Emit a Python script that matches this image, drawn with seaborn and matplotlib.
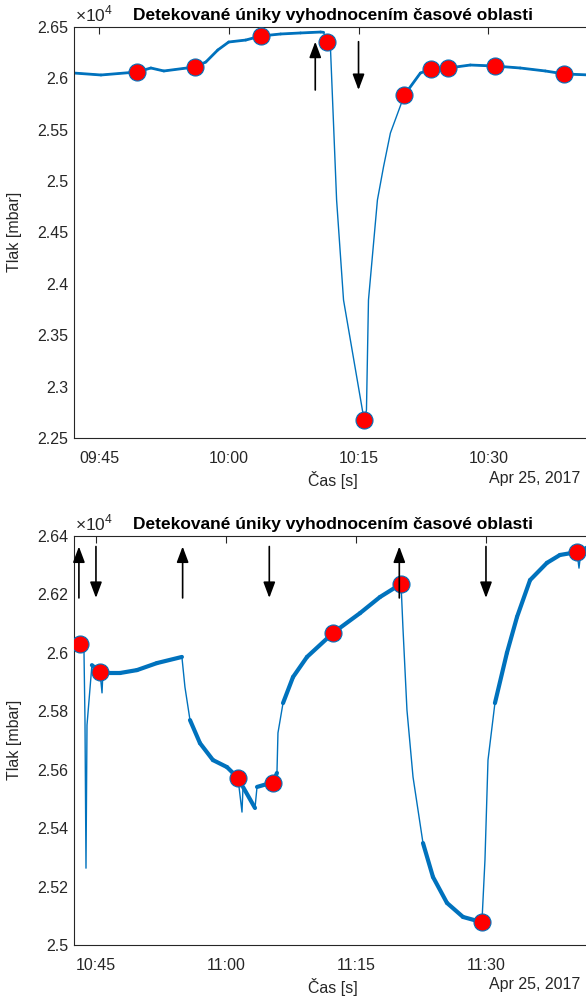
import numpy as np
import pandas as pd
import seaborn as sns
import matplotlib
matplotlib.use('Agg')
import matplotlib.pyplot as plt
import matplotlib.dates as mdates
from matplotlib.ticker import FuncFormatter, MultipleLocator

day = '2017-04-25 '
title = 'Detekované úniky vyhodnocením časové oblasti'

# horni graf - tlak [mbar]
top_time = ['09:42:07', '09:45:14', '09:49:23', '09:51:00', '09:52:30', '09:56:05',
            '09:57:21', '09:58:44', '10:00:00', '10:01:58', '10:03:41', '10:06:00',
            '10:08:18', '10:10:37', '10:10:58', '10:11:18', '10:11:46', '10:12:28',
            '10:13:16', '10:15:28', '10:15:41', '10:15:55', '10:16:09', '10:17:11',
            '10:17:53', '10:18:41', '10:20:18', '10:22:09', '10:23:25', '10:25:23',
            '10:27:55', '10:30:48', '10:33:41', '10:36:35', '10:38:46', '10:41:46']
top_p = [26052, 26033, 26062, 26101, 26072, 26111,
         26159, 26276, 26354, 26373, 26412, 26432,
         26442, 26451, 26448, 26354, 26276, 24816,
         23843, 22763, 22675, 22772, 23843, 24816,
         25137, 25468, 25838, 26052, 26091, 26101,
         26130, 26120, 26101, 26072, 26043, 26033]
top_mark_time = ['09:49:23', '09:56:05', '10:03:41', '10:11:18', '10:15:41',
                 '10:20:18', '10:23:25', '10:25:23', '10:30:48', '10:38:46']
top_mark_p = [26062, 26111, 26412, 26354, 22675, 25838, 26091, 26101, 26120, 26043]
top_up = ['10:10:00']
top_down = ['10:15:00']
top_arrow = (25887, 26357)

# dolni graf
bot_time = ['10:43:09', '10:43:37', '10:43:44', '10:43:51', '10:43:58', '10:44:32',
            '10:45:28', '10:45:42', '10:45:48', '10:47:46', '10:49:44', '10:52:02',
            '10:54:55', '10:55:16', '10:55:51', '10:57:00', '10:58:30', '11:00:07',
            '11:01:23', '11:01:51', '11:01:58', '11:03:21', '11:03:35', '11:05:05',
            '11:05:25', '11:05:53', '11:06:00', '11:06:35', '11:07:44', '11:09:21',
            '11:12:21', '11:15:28', '11:17:46', '11:20:12', '11:20:25', '11:20:53',
            '11:21:35', '11:22:44', '11:23:53', '11:25:30', '11:27:21', '11:29:32',
            '11:29:53', '11:30:14', '11:31:02', '11:32:25', '11:33:35', '11:35:05',
            '11:37:02', '11:38:32', '11:40:30', '11:40:44', '11:40:58', '11:42:00']
bot_p = [26030, 26010, 25770, 25263, 25753, 25958,
         25934, 25863, 25931, 25931, 25941, 25965,
         25986, 25883, 25770, 25691, 25633, 25609,
         25572, 25455, 25541, 25469, 25541, 25554,
         25554, 25589, 25726, 25828, 25917, 25986,
         26068, 26136, 26191, 26236, 26088, 25804,
         25575, 25349, 25233, 25144, 25096, 25078,
         25291, 25633, 25828, 26000, 26123, 26249,
         26308, 26335, 26345, 26290, 26349, 26366]
bot_mark_time = ['10:43:09', '10:45:28', '11:01:23', '11:05:25',
                 '11:12:21', '11:20:12', '11:29:32', '11:40:30']
bot_mark_p = [26030, 25934, 25572, 25554, 26068, 26236, 25078, 26345]
bot_up = ['10:43:02', '10:55:00', '11:20:00']
bot_down = ['10:45:00', '11:05:00', '11:30:00']
bot_arrow = (26188, 26364)

blue = '#0072BD'
grey = '#262626'

sns.set_theme(style='white')
plt.rcParams['font.family'] = ['Liberation Sans', 'DejaVu Sans']
plt.rcParams['mathtext.fontset'] = 'custom'
plt.rcParams['mathtext.rm'] = 'Liberation Sans'


def ts(lst):
    return pd.to_datetime([day + s for s in lst])


def panel(ax, t, p, mt, mp, up, down, arrow, xlim, ylim, ystep, band):
    df = pd.DataFrame({'t': ts(t), 'p': p})
    sns.lineplot(data=df, x='t', y='p', ax=ax, color=blue, lw=1.0, estimator=None)

    # noisy flat parts look like a thicker band, the fast jumps stay thin
    dmin = df['t'].diff().dt.total_seconds().div(60).shift(-1)
    slope = (df['p'].diff().shift(-1) / dmin).abs()
    rows = []
    for i in np.where(slope < 150)[0]:
        rows.append((df.t[i], df.p[i], i))
        rows.append((df.t[i + 1], df.p[i + 1], i))
    seg = pd.DataFrame(rows, columns=['t', 'p', 'seg'])
    sns.lineplot(data=seg, x='t', y='p', units='seg', estimator=None, ax=ax,
                 color=blue, lw=band, solid_capstyle='round', legend=False)

    sns.scatterplot(x=ts(mt), y=mp, ax=ax, s=150, color='red', edgecolor=blue,
                    linewidth=0.8, zorder=4)

    lo, hi = arrow
    aprops = dict(arrowstyle='-|>,head_width=0.3,head_length=0.8', color='black',
                  lw=1.2, shrinkA=0, shrinkB=0)
    for x in ts(up):
        ax.annotate('', xy=(mdates.date2num(x), hi), xytext=(mdates.date2num(x), lo),
                    arrowprops=aprops, zorder=5)
    for x in ts(down):
        ax.annotate('', xy=(mdates.date2num(x), lo), xytext=(mdates.date2num(x), hi),
                    arrowprops=aprops, zorder=5)

    ax.set_xlim(pd.Timestamp(day + xlim[0]), pd.Timestamp(day + xlim[1]))
    ax.set_ylim(*ylim)
    ax.yaxis.set_major_locator(MultipleLocator(ystep))
    ax.yaxis.set_major_formatter(FuncFormatter(lambda v, _: f'{v / 1e4:g}'))
    ax.xaxis.set_major_locator(mdates.MinuteLocator(byminute=[0, 15, 30, 45]))
    ax.xaxis.set_major_formatter(mdates.DateFormatter('%H:%M'))
    ax.tick_params(direction='in', top=True, right=False, length=5, width=0.8,
                   colors=grey, labelsize=11.5)
    ax.tick_params(axis='x', pad=9)
    ax.tick_params(axis='y', pad=4)
    for s in ax.spines.values():
        s.set_color(grey)
        s.set_linewidth(0.8)
    ax.set_title(title, fontweight='bold', fontsize=12.5, pad=5, color='black')
    ax.set_xlabel('Čas [s]', fontsize=11.5, color=grey, labelpad=4)
    ax.set_ylabel('')
    ax.text(0.002, 1.006, r'$\times10^{4}$', transform=ax.transAxes, ha='left',
            va='bottom', fontsize=12.5, color=grey)


fig = plt.figure(figsize=(5.86, 10.01), dpi=100)
ax1 = fig.add_axes([74 / 586, 1 - 438 / 1001, 518 / 586, 411 / 1001])
ax2 = fig.add_axes([74 / 586, 1 - 945 / 1001, 518 / 586, 409 / 1001])

panel(ax1, top_time, top_p, top_mark_time, top_mark_p, top_up, top_down, top_arrow,
      ('09:42:07', '10:41:59'), (22500, 26500), 500, 2.0)
panel(ax2, bot_time, bot_p, bot_mark_time, bot_mark_p, bot_up, bot_down, bot_arrow,
      ('10:42:28', '11:42:14'), (25000, 26400), 200, 3.0)

for y_mid, y_base in [(232, 483), (740, 989)]:
    fig.text(15 / 586, 1 - y_mid / 1001, 'Tlak [mbar]', rotation=90, ha='center',
             va='center', fontsize=11.5, color=grey)
    fig.text(580 / 586, 1 - y_base / 1001, 'Apr 25, 2017', ha='right', va='baseline',
             fontsize=11.5, color=grey)

fig.savefig('out.png', dpi=100)
